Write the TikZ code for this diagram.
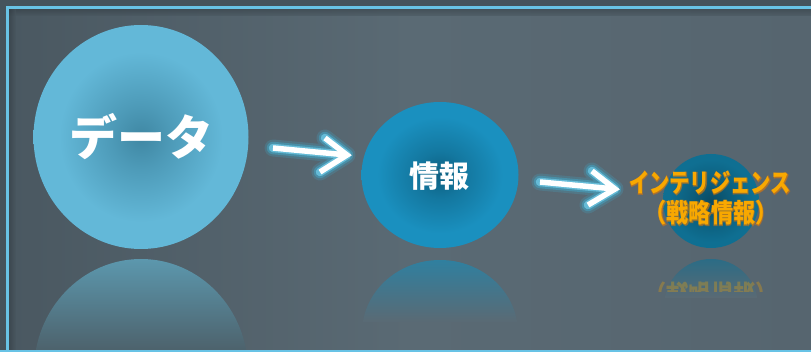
\documentclass[tikz,border=0pt]{standalone}
\usepackage{fontspec}
\newfontfamily\jp{Noto Sans CJK JP}
\newfontfamily\jpglow{Noto Sans CJK JP}[BoldFeatures={FakeBold=6}]
\usetikzlibrary{shapes.geometric}
\definecolor{bgout}{HTML}{45535C}
\definecolor{bgl}{HTML}{4A5861}
\definecolor{bgm}{HTML}{5A6A74}
\definecolor{bgr}{HTML}{56656F}
\definecolor{framec}{HTML}{68C3E6}
\definecolor{cAout}{HTML}{63B8D8}
\definecolor{cAin}{HTML}{3F87A3}
\definecolor{cBout}{HTML}{1A90BF}
\definecolor{cBin}{HTML}{0D5F80}
\definecolor{cCout}{HTML}{0F6F92}
\definecolor{cCin}{HTML}{094B64}
\definecolor{rAtop}{HTML}{5C98AE}
\definecolor{rAbot}{HTML}{4D626C}
\definecolor{rBtop}{HTML}{2F80A0}
\definecolor{rCtop}{HTML}{2A6C86}
\definecolor{glowc}{HTML}{3DB5DA}
\definecolor{orangetxt}{HTML}{F8A800}
\definecolor{orangeglow}{HTML}{E87800}
\pgfdeclareradialshading{ballA}{\pgfpoint{0bp}{0bp}}{color(0bp)=(cAin); color(7bp)=(cAin!60!cAout); color(19bp)=(cAout); color(50bp)=(cAout)}
\pgfdeclareradialshading{ballB}{\pgfpoint{0bp}{0bp}}{color(0bp)=(cBin); color(8bp)=(cBin!50!cBout); color(20bp)=(cBout); color(50bp)=(cBout)}
\pgfdeclareradialshading{ballC}{\pgfpoint{0bp}{0bp}}{color(0bp)=(cCin); color(10bp)=(cCin!50!cCout); color(22bp)=(cCout); color(50bp)=(cCout)}
\tikzset{
  ball/.style={ellipse, inner sep=0pt, text=white, font=\jp\bfseries},
  arrowglowA/.style={line width=17pt, glowc, opacity=0.2, line cap=round, line join=round},
  arrowglowB/.style={line width=12.5pt, glowc, opacity=0.4, line cap=round, line join=round},
  arrowglowC/.style={line width=8.5pt, glowc!75!white, opacity=0.8, line cap=round, line join=round},
  arrowcore/.style={line width=5.5pt, white, line cap=butt, line join=miter},
  inteltext/.style={text=orangetxt, font=\jp\bfseries\fontsize{26}{26}\selectfont, inner sep=0pt},
  intelglow/.style={text=orangeglow, font=\jpglow\bfseries\fontsize{26}{26}\selectfont, inner sep=0pt, opacity=0.45},
}
\begin{document}
\begin{tikzpicture}[x=1pt, y=-1pt]
\useasboundingbox (0,0) rectangle (811,352);
% background
\fill[bgout] (0,0) rectangle (811,352);
\shade[left color=bgl, right color=bgr, middle color=bgm] (9,9) rectangle (811,350);
\shade[top color=black!35!bgl, bottom color=bgl, opacity=0.5] (9,9) rectangle (811,16);
\shade[left color=black!35!bgl, right color=bgl, opacity=0.5] (9,9) rectangle (16,350);
% frame
\draw[framec, line width=3pt] (811,8) -- (7.5,8) -- (7.5,352);
\draw[framec, line width=2pt] (0,351) -- (811,351);

% reflections
\begin{scope}
  \clip (141,371) ellipse [x radius=107, y radius=112];
  \shade[top color=rAtop, bottom color=rAbot] (30,258) rectangle (252,350);
\end{scope}
\begin{scope}
  \clip (440,333) ellipse [x radius=78, y radius=73];
  \shade[top color=rBtop, bottom color=bgm] (360,259) rectangle (520,322);
\end{scope}
\begin{scope}
  \clip (711,306) ellipse [x radius=47, y radius=47];
  \shade[top color=rCtop, bottom color=bgm] (660,258) rectangle (760,298);
\end{scope}
\begin{scope}
  \clip (620,276) rectangle (800,292);
  \node[inteltext, xscale=0.85, yscale=-1, opacity=0.3] (intelrefl) at (711,294) {（戦略情報）};
\end{scope}

% circles
\node[ball, minimum width=215pt, minimum height=224pt, shading=ballA,
      font=\jp\bfseries\fontsize{48}{48}\selectfont] (data) at (141,137) {データ};
\node[ball, minimum width=157pt, minimum height=146pt, shading=ballB] (info) at (440,175) {};
\node[text=white, font=\jp\bfseries\fontsize{30}{30}\selectfont, inner sep=0pt] (infotxt) at (439,176) {情報};
\node[ball, minimum width=96pt, minimum height=94pt, shading=ballC] (intel) at (711,201) {};

% arrows
\coordinate (a1s) at (273,148);
\coordinate (a1t) at (347,155);
\coordinate (a1u) at (325,138);
\coordinate (a1l) at (320,172);
\coordinate (a2s) at (540,182);
\coordinate (a2t) at (615,189);
\coordinate (a2u) at (592,171);
\coordinate (a2l) at (588,205);
\foreach \st in {arrowglowA,arrowglowB,arrowglowC,arrowcore}{
  \draw[\st] (a1s) -- (a1t) (a1u) -- (a1t) -- (a1l);
  \draw[\st] (a2s) -- (a2t) (a2u) -- (a2t) -- (a2l);
}

% intelligence text with glow
\node[intelglow, xscale=0.78] (intel1glow) at (710,183) {インテリジェンス};
\node[intelglow, xscale=0.85] (intel2glow) at (711,213) {（戦略情報）};
\node[inteltext, xscale=0.78] (intel1) at (710,183) {インテリジェンス};
\node[inteltext, xscale=0.85] (intel2) at (711,213) {（戦略情報）};
\end{tikzpicture}
\end{document}
